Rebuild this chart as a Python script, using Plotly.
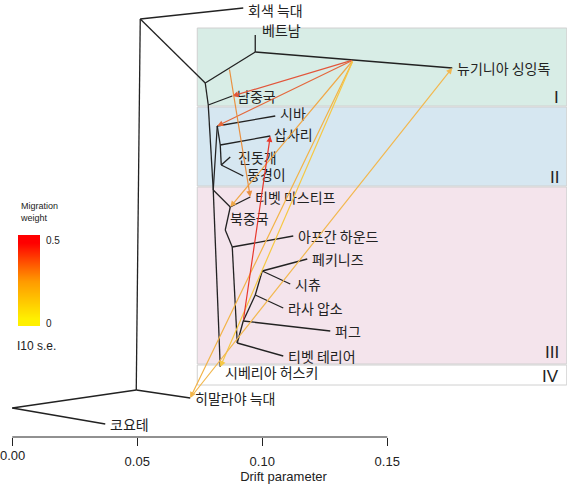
import plotly.graph_objects as go

# tree nodes: name -> (drift, vertical position)
nodes = {
    "root": (0.000, 408), "coy": (0.0372, 424), "n1": (0.0496, 390), "him": (0.0712, 398),
    "n2": (0.0512, 19), "gw": (0.0924, 8), "n3": (0.0772, 83), "n4": (0.0972, 52),
    "vn": (0.0972, 35), "ng": (0.1760, 68), "n5": (0.0784, 105), "sc": (0.0880, 96),
    "n6": (0.0804, 190), "k1": (0.0820, 126), "shiba": (0.1052, 116), "k2": (0.0832, 145),
    "sap": (0.1032, 136), "k3": (0.0836, 165), "jindo": (0.0872, 157), "dong": (0.0924, 176),
    "sh": (0.0832, 367), "n7": (0.0872, 207), "tm": (0.0952, 197), "n8": (0.0852, 230),
    "n9": (0.0880, 247), "afg": (0.1124, 236), "n10": (0.0900, 343), "tt": (0.1084, 356),
    "n11": (0.0924, 321), "pug": (0.1272, 331), "n12": (0.0972, 295), "lhasa": (0.1084, 308),
    "n13": (0.1000, 271), "pek": (0.1180, 259), "shih": (0.1112, 284), "hub": (0.1364, 60),
}
edges = [("root", "coy"), ("root", "n1"), ("n1", "him"), ("n1", "n2"), ("n2", "gw"), ("n2", "n3"),
         ("n3", "n4"), ("n4", "vn"), ("n4", "ng"), ("n3", "n5"), ("n5", "sc"), ("n5", "n6"),
         ("n6", "k1"), ("k1", "shiba"), ("k1", "k2"), ("k2", "sap"), ("k2", "k3"), ("k3", "jindo"),
         ("k3", "dong"), ("n6", "sh"), ("n6", "n7"), ("n7", "tm"), ("n7", "n8"), ("n8", "n9"),
         ("n9", "afg"), ("n9", "n10"), ("n10", "tt"), ("n10", "n11"), ("n11", "pug"), ("n11", "n12"),
         ("n12", "lhasa"), ("n12", "n13"), ("n13", "pek"), ("n13", "shih")]

labels = [("gw", "회색 늑대"), ("vn", "베트남"), ("ng", "뉴기니아 싱잉독"), ("sc", "남중국"),
          ("shiba", "시바"), ("sap", "삽사리"), ("jindo", "진돗개"), ("dong", "동경이"),
          ("tm", "티벳 마스티프"), ("n8", "북중국"), ("afg", "아프간 하운드"), ("pek", "페키니즈"),
          ("shih", "시츄"), ("lhasa", "라사 압소"), ("pug", "퍼그"), ("tt", "티벳 테리어"),
          ("sh", "시베리아 허스키"), ("him", "히말라야 늑대"), ("coy", "코요테")]
label_shift = {"vn": (0.002, -5), "n8": (0.0012, -12), "sap": (0.0008, -2), "jindo": (0.0024, 0),
               "dong": (0.0008, -2), "sh": (0.0012, 5), "afg": (0.0012, 0), "gw": (0.0012, 2),
               "shiba": (0.0012, -3)}

# migration edges: (from, to, weight colour)
migrations = [("hub", "sc", "#e2553a"), ("hub", "k1", "#e4683c"), ("hub", "n7", "#f0a848"),
              ("hub", "him", "#f2b347"), ("hub", "sh", "#f6c844"), ("him", "ng", "#f2b850"),
              ("n11", "sap", "#e8382c")]
tm_src = (0.0868, 68)

legend_weights = [[0.0], [0.1], [0.2], [0.3], [0.4], [0.5]]
drift_ticks = [0, 0.05, 0.1, 0.15]
drift_tick_text = ["0.00", "0.05", "0.10", "0.15"]

fig = go.Figure()

bands = [(28, 106, "#d8ede6"), (107, 186, "#d6e7f1"), (187, 364, "#f4e4ec"), (365, 385, "white")]
for y0, y1, c in bands:
    fig.add_shape(type="rect", xref="x", yref="y", x0=0.074, x1=0.2218, y0=y0, y1=y1,
                  fillcolor=c, line=dict(color="#d0d0d0", width=1), layer="below")
for yy, t in [(97, "I"), (177, "II"), (352, "III"), (376, "IV")]:
    fig.add_annotation(x=0.2195, y=yy, text=t, showarrow=False, xanchor="right",
                       font=dict(size=17, color="#222", family="Arial"), xref="x", yref="y")

for a, b in edges:
    fig.add_trace(go.Scatter(x=[nodes[a][0], nodes[b][0]], y=[nodes[a][1], nodes[b][1]], mode="lines",
                             line=dict(color="#222", width=1.3), hoverinfo="skip", showlegend=False))

for k, t in labels:
    dx, dy = label_shift.get(k, (0.0012, 0))
    fig.add_annotation(x=nodes[k][0] + dx, y=nodes[k][1] + dy, text=t, showarrow=False, xanchor="left",
                       font=dict(size=14, color="#222", family="Noto Sans CJK KR"))

def arrow(src, dst, c):
    fig.add_annotation(x=dst[0], y=dst[1], ax=src[0], ay=src[1], xref="x", yref="y", axref="x", ayref="y",
                       text="", showarrow=True, arrowhead=2, arrowsize=1, arrowwidth=1.2, arrowcolor=c)

for a, b, c in migrations:
    arrow(nodes[a], nodes[b], c)
arrow(tm_src, nodes["tm"], "#ea9040")

# colour scale legend on its own small axes
fig.add_trace(go.Heatmap(z=legend_weights, xaxis="x2", yaxis="y2", zmin=0, zmax=0.5, zsmooth="best",
                         colorscale=[[0, "#fff000"], [0.5, "#ff9a00"], [1, "#ff0000"]],
                         showscale=False, hoverinfo="skip"))
fig.add_annotation(x=0.032, y=1 - 212 / 493, xref="paper", yref="paper", text="Migration<br>weight",
                   showarrow=False, xanchor="left", align="left", font=dict(size=9, family="Arial"))
fig.add_annotation(x=0.078, y=1 - 240 / 493, xref="paper", yref="paper", text="0.5", showarrow=False,
                   xanchor="left", font=dict(size=10, family="Arial"))
fig.add_annotation(x=0.078, y=1 - 323 / 493, xref="paper", yref="paper", text="0", showarrow=False,
                   xanchor="left", font=dict(size=10, family="Arial"))
fig.add_annotation(x=0.026, y=1 - 355 / 493, xref="paper", yref="paper", text="I10 s.e.", showarrow=False,
                   xanchor="left", font=dict(size=12, color="#222", family="Arial"))
# first tick label gets hidden at the plot edge, so draw it as text
fig.add_annotation(x=drift_ticks[0], y=1 - 465 / 493, xref="x", yref="paper", text=drift_tick_text[0],
                   showarrow=False, font=dict(size=13, color="#222", family="Arial"))

fig.update_layout(
    width=567, height=493, margin=dict(l=0, r=0, t=0, b=0), plot_bgcolor="white", paper_bgcolor="white",
    font=dict(family="Noto Sans CJK KR, Arial", color="#222"),
    xaxis=dict(range=[-0.0049, 0.2219], tickvals=drift_ticks, ticktext=[""] + drift_tick_text[1:],
               showgrid=False, zeroline=False,
               showline=False, ticks="outside", ticklen=8, tickwidth=1.2, tickcolor="#222", anchor="free",
               position=1 - 437 / 493, tickfont=dict(size=13, family="Arial"), ticklabelstandoff=4,
               title=dict(text="Drift parameter", font=dict(size=13, family="Arial"), standoff=4)),
    yaxis=dict(range=[493, 0], visible=False),
    xaxis2=dict(domain=[18 / 567, 40 / 567], visible=False, anchor="y2"),
    yaxis2=dict(domain=[1 - 326 / 493, 1 - 235 / 493], visible=False, anchor="x2"),
)
fig.add_shape(type="line", xref="x", yref="y", x0=0, x1=0.15, y0=437, y1=437, line=dict(color="#222", width=1))

fig.write_html("out.html", config={"displayModeBar": False},
               post_script="document.body.style.margin='0';document.body.style.overflow='hidden';")
